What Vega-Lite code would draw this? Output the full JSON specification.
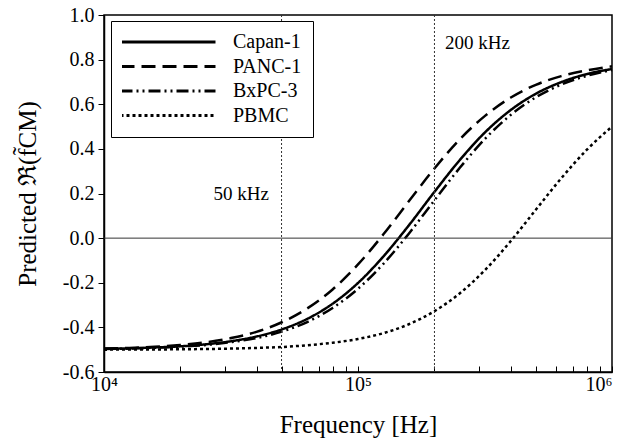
{
  "$schema": "https://vega.github.io/schema/vega-lite/v6.json",
  "width": 508,
  "height": 357,
  "autosize": {"type": "none"},
  "padding": {"left": 104, "top": 15, "right": 9, "bottom": 74},
  "background": "white",
  "datasets": {
    "curves": [
      {"f":10000,"v":-0.496,"s":"Capan-1"},{"f":12589,"v":-0.494,"s":"Capan-1"},{"f":15849,"v":-0.490,"s":"Capan-1"},{"f":19953,"v":-0.485,"s":"Capan-1"},{"f":25119,"v":-0.476,"s":"Capan-1"},{"f":31623,"v":-0.462,"s":"Capan-1"},{"f":39811,"v":-0.441,"s":"Capan-1"},{"f":50119,"v":-0.409,"s":"Capan-1"},{"f":63096,"v":-0.362,"s":"Capan-1"},{"f":79433,"v":-0.294,"s":"Capan-1"},{"f":100000,"v":-0.201,"s":"Capan-1"},{"f":125893,"v":-0.082,"s":"Capan-1"},{"f":158489,"v":0.057,"s":"Capan-1"},{"f":199526,"v":0.206,"s":"Capan-1"},{"f":251189,"v":0.349,"s":"Capan-1"},{"f":316228,"v":0.474,"s":"Capan-1"},{"f":398107,"v":0.573,"s":"Capan-1"},{"f":501187,"v":0.647,"s":"Capan-1"},{"f":630957,"v":0.699,"s":"Capan-1"},{"f":794328,"v":0.735,"s":"Capan-1"},{"f":1000000,"v":0.758,"s":"Capan-1"},
      {"f":10000,"v":-0.495,"s":"PANC-1"},{"f":12589,"v":-0.492,"s":"PANC-1"},{"f":15849,"v":-0.487,"s":"PANC-1"},{"f":19953,"v":-0.479,"s":"PANC-1"},{"f":25119,"v":-0.467,"s":"PANC-1"},{"f":31623,"v":-0.448,"s":"PANC-1"},{"f":39811,"v":-0.420,"s":"PANC-1"},{"f":50119,"v":-0.377,"s":"PANC-1"},{"f":63096,"v":-0.315,"s":"PANC-1"},{"f":79433,"v":-0.230,"s":"PANC-1"},{"f":100000,"v":-0.118,"s":"PANC-1"},{"f":125893,"v":0.017,"s":"PANC-1"},{"f":158489,"v":0.165,"s":"PANC-1"},{"f":199526,"v":0.311,"s":"PANC-1"},{"f":251189,"v":0.442,"s":"PANC-1"},{"f":316228,"v":0.548,"s":"PANC-1"},{"f":398107,"v":0.629,"s":"PANC-1"},{"f":501187,"v":0.687,"s":"PANC-1"},{"f":630957,"v":0.726,"s":"PANC-1"},{"f":794328,"v":0.752,"s":"PANC-1"},{"f":1000000,"v":0.770,"s":"PANC-1"},
      {"f":10000,"v":-0.497,"s":"BxPC-3"},{"f":12589,"v":-0.495,"s":"BxPC-3"},{"f":15849,"v":-0.491,"s":"BxPC-3"},{"f":19953,"v":-0.486,"s":"BxPC-3"},{"f":25119,"v":-0.479,"s":"BxPC-3"},{"f":31623,"v":-0.466,"s":"BxPC-3"},{"f":39811,"v":-0.448,"s":"BxPC-3"},{"f":50119,"v":-0.419,"s":"BxPC-3"},{"f":63096,"v":-0.376,"s":"BxPC-3"},{"f":79433,"v":-0.313,"s":"BxPC-3"},{"f":100000,"v":-0.227,"s":"BxPC-3"},{"f":125893,"v":-0.115,"s":"BxPC-3"},{"f":158489,"v":0.020,"s":"BxPC-3"},{"f":199526,"v":0.168,"s":"BxPC-3"},{"f":251189,"v":0.314,"s":"BxPC-3"},{"f":316228,"v":0.445,"s":"BxPC-3"},{"f":398107,"v":0.551,"s":"BxPC-3"},{"f":501187,"v":0.631,"s":"BxPC-3"},{"f":630957,"v":0.688,"s":"BxPC-3"},{"f":794328,"v":0.727,"s":"BxPC-3"},{"f":1000000,"v":0.753,"s":"BxPC-3"},
      {"f":10000,"v":-0.500,"s":"PBMC"},{"f":12589,"v":-0.499,"s":"PBMC"},{"f":15849,"v":-0.499,"s":"PBMC"},{"f":19953,"v":-0.498,"s":"PBMC"},{"f":25119,"v":-0.497,"s":"PBMC"},{"f":31623,"v":-0.495,"s":"PBMC"},{"f":39811,"v":-0.492,"s":"PBMC"},{"f":50119,"v":-0.488,"s":"PBMC"},{"f":63096,"v":-0.480,"s":"PBMC"},{"f":79433,"v":-0.469,"s":"PBMC"},{"f":100000,"v":-0.452,"s":"PBMC"},{"f":125893,"v":-0.426,"s":"PBMC"},{"f":158489,"v":-0.386,"s":"PBMC"},{"f":199526,"v":-0.328,"s":"PBMC"},{"f":251189,"v":-0.248,"s":"PBMC"},{"f":316228,"v":-0.143,"s":"PBMC"},{"f":398107,"v":-0.015,"s":"PBMC"},{"f":501187,"v":0.127,"s":"PBMC"},{"f":630957,"v":0.268,"s":"PBMC"},{"f":794328,"v":0.395,"s":"PBMC"},{"f":1000000,"v":0.500,"s":"PBMC"}
    ],
    "marks": [{"f":50000},{"f":200000}],
    "zero": [{"v":0}],
    "notes": [{"f":27000,"v":0.2,"t":"50 kHz"},{"f":220000,"v":0.875,"t":"200 kHz"}]
  },
  "layer": [
    {
      "data": {"name": "curves"},
      "mark": {"type": "line", "color": "black", "strokeWidth": 2.5, "interpolate": "monotone"},
      "encoding": {
        "x": {
          "field": "f", "type": "quantitative",
          "scale": {"type": "log", "domain": [10000, 1000000], "nice": false},
          "axis": {
            "title": "Frequency [Hz]",
            "values": [10000,20000,30000,40000,50000,60000,70000,80000,90000,100000,200000,300000,400000,500000,600000,700000,800000,900000,1000000],
            "labelExpr": "datum.value == 10000 ? '10⁴' : datum.value == 100000 ? '10⁵' : datum.value == 1000000 ? '10⁶' : ''",
            "labelAlign": {"condition": {"test": "datum.value == 1000000", "value": "right"}, "value": "center"},
            "tickSize": -6,
            "labelPadding": 8,
            "titlePadding": 18,
            "labelFlush": false,
            "labelOverlap": false,
            "labelBound": false,
            "labelFont": "Liberation Serif", "labelFontSize": 20, "labelColor": "black",
            "titleFont": "Liberation Serif", "titleFontSize": 25, "titleFontWeight": "normal", "titleColor": "black"
          }
        },
        "y": {
          "field": "v", "type": "quantitative",
          "scale": {"domain": [-0.6, 1.0], "nice": false, "zero": false},
          "axis": {
            "title": "Predicted ℜ(f̃CM)",
            "values": [-0.6,-0.4,-0.2,0,0.2,0.4,0.6,0.8,1.0],
            "labelExpr": "(datum.value < -0.0001 ? '-' : '') + format(abs(datum.value), '.1f')",
            "tickSize": 6,
            "labelPadding": 4,
            "titlePadding": 22,
            "labelFont": "Liberation Serif", "labelFontSize": 20, "labelColor": "black",
            "titleFont": "Liberation Serif", "titleFontSize": 25, "titleFontWeight": "normal", "titleColor": "black"
          }
        },
        "strokeDash": {
          "field": "s", "type": "nominal",
          "scale": {"domain": ["Capan-1", "PANC-1", "BxPC-3", "PBMC"], "range": [[1, 0], [14, 7], [12, 4, 2, 4, 2, 4], [3, 3]]},
          "legend": {
            "orient": "none", "legendX": 7, "legendY": 6,
            "title": null,
            "symbolType": "stroke", "symbolSize": 9025, "symbolStrokeWidth": 3, "symbolStrokeColor": "black",
            "clipHeight": 20, "rowPadding": 4.5,
            "labelFont": "Liberation Serif", "labelFontSize": 20, "labelColor": "black",
            "labelOffset": 16, "symbolOffset": -3,
            "padding": 11, "strokeColor": "black", "fillColor": "white"
          }
        }
      }
    },
    {
      "data": {"name": "marks"},
      "mark": {"type": "rule", "color": "#333333", "strokeWidth": 1, "strokeDash": [2, 2]},
      "encoding": {
        "x": {"field": "f", "type": "quantitative"}
      }
    },
    {
      "data": {"name": "zero"},
      "mark": {"type": "rule", "color": "#333333", "strokeWidth": 1},
      "encoding": {
        "y": {"field": "v", "type": "quantitative"}
      }
    },
    {
      "data": {"name": "notes"},
      "mark": {"type": "text", "align": "left", "baseline": "middle", "font": "Liberation Serif", "fontSize": 19, "color": "black"},
      "encoding": {
        "x": {"field": "f", "type": "quantitative"},
        "y": {"field": "v", "type": "quantitative"},
        "text": {"field": "t"}
      }
    }
  ],
  "config": {
    "font": "Liberation Serif",
    "view": {"stroke": "black", "strokeWidth": 1.5},
    "axis": {
      "grid": false,
      "domainColor": "black", "domainWidth": 1.5,
      "tickColor": "black", "tickWidth": 1
    }
  }
}
